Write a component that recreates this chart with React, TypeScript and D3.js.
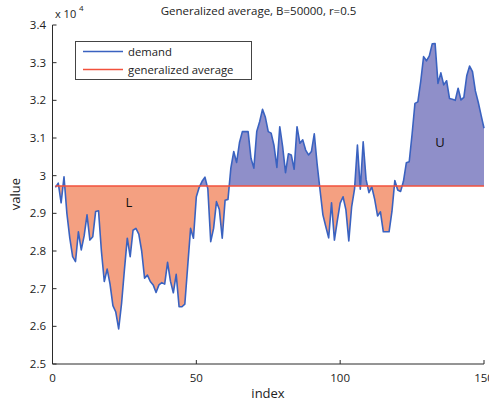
import React from "react";
import * as d3 from "d3";

// Demand series, index 1..150 (units of 10^4)
const demand: number[] = [
  2.969, 2.98, 2.928, 2.997, 2.9, 2.835, 2.785, 2.772, 2.851, 2.803,
  2.84, 2.896, 2.829, 2.838, 2.905, 2.907, 2.8, 2.719, 2.752, 2.712,
  2.655, 2.638, 2.593, 2.66, 2.75, 2.834, 2.785, 2.855, 2.86, 2.845,
  2.8, 2.728, 2.736, 2.719, 2.71, 2.69, 2.71, 2.716, 2.712, 2.77,
  2.72, 2.689, 2.738, 2.652, 2.652, 2.659, 2.76, 2.86, 2.834, 2.944,
  2.969, 2.985, 2.996, 2.965, 2.825, 2.86, 2.931, 2.91, 2.834, 2.935,
  2.937, 3.02, 3.064, 3.035, 3.088, 3.117, 3.117, 3.117, 3.046, 3.02,
  3.117, 3.143, 3.176, 3.155, 3.117, 3.113, 3.08, 3.022, 3.13, 3.077,
  3.008, 3.058, 3.055, 3.017, 3.13, 3.086, 3.095, 3.068, 3.055, 3.064,
  3.111, 3.03, 2.962, 2.896, 2.865, 2.835, 2.928, 2.829, 2.88, 2.927,
  2.944, 2.909, 2.827, 2.918, 2.965, 3.081, 2.964, 3.09, 2.99, 2.955,
  2.97, 2.937, 2.893, 2.904, 2.851, 2.851, 2.851, 2.905, 2.987, 2.962,
  2.958, 2.985, 3.034, 3.037, 3.11, 3.192, 3.196, 3.25, 3.316, 3.305,
  3.318, 3.35, 3.351, 3.245, 3.273, 3.241, 3.252, 3.205, 3.203, 3.2,
  3.232, 3.201, 3.208, 3.265, 3.291, 3.276, 3.225, 3.195, 3.16, 3.126,
].map((v) => v * 10000);

const generalizedAverage = 29725;

const xTicks = [0, 50, 100, 150];
const yTicks = [25000, 26000, 27000, 28000, 29000, 30000, 31000, 32000, 33000, 34000];

const W = 489;
const H = 403;
const FONT = "'Open Sans', 'DejaVu Sans', sans-serif";

export default function App() {
  const x = d3.scaleLinear().domain([0, 150]).range([52.5, 484]);
  const y = d3.scaleLinear().domain([25000, 34000]).range([364, 25]);

  const pts = demand.map((v, i) => ({ i: i + 1, v }));
  const avgY = y(generalizedAverage);

  const area = d3
    .area<{ i: number; v: number }>()
    .x((d) => x(d.i))
    .y0(avgY)
    .y1((d) => y(d.v));
  const line = d3
    .line<{ i: number; v: number }>()
    .x((d) => x(d.i))
    .y((d) => y(d.v));

  const areaPath = area(pts) || "";
  const linePath = line(pts) || "";

  const axisColor = "#2b2b2b";
  const lineBlue = "#3a62c0";
  const avgRed = "#f2513c";

  return (
    <div style={{ position: "fixed", left: 0, top: 0 }}>
      <svg width={W} height={H} style={{ display: "block", background: "#fff" }}>
        <defs>
          <clipPath id="above">
            <rect x={0} y={0} width={W} height={avgY} />
          </clipPath>
          <clipPath id="below">
            <rect x={0} y={avgY} width={W} height={H - avgY} />
          </clipPath>
        </defs>

        {/* title */}
        <text x={258.5} y={15} textAnchor="middle" fontFamily={FONT} fontSize={11.5} fill="#222">
          Generalized average, B=50000, r=0.5
        </text>

        {/* filled regions */}
        <path d={areaPath} fill="#8f8fc9" clipPath="url(#above)" />
        <path d={areaPath} fill="#f4a081" clipPath="url(#below)" />

        {/* demand curve */}
        <path d={linePath} fill="none" stroke={lineBlue} strokeWidth={1.6} strokeLinejoin="round" />

        {/* generalized average */}
        <line x1={x(1)} x2={x(150)} y1={avgY} y2={avgY} stroke={avgRed} strokeWidth={1.6} />

        {/* region labels */}
        <text x={129} y={207} textAnchor="middle" fontFamily={FONT} fontSize={13} fill="#111">L</text>
        <text x={440} y={147} textAnchor="middle" fontFamily={FONT} fontSize={13} fill="#111">U</text>

        {/* axes */}
        <line x1={x(0)} x2={x(0)} y1={y(34000)} y2={y(25000)} stroke={axisColor} strokeWidth={1} />
        <line x1={x(0)} x2={x(150)} y1={y(25000)} y2={y(25000)} stroke={axisColor} strokeWidth={1} />
        {yTicks.map((t) => (
          <g key={"y" + t}>
            <line x1={x(0)} x2={x(0) + 4} y1={y(t)} y2={y(t)} stroke={axisColor} strokeWidth={1} />
            <text x={46} y={y(t) + 4} textAnchor="end" fontFamily={FONT} fontSize={11.5} fill="#222">
              {d3.format("~g")(t / 10000)}
            </text>
          </g>
        ))}
        {xTicks.map((t) => (
          <g key={"x" + t}>
            <line x1={x(t)} x2={x(t)} y1={y(25000)} y2={y(25000) - 4} stroke={axisColor} strokeWidth={1} />
            <text x={x(t)} y={382} textAnchor="middle" fontFamily={FONT} fontSize={11.5} fill="#222">
              {t}
            </text>
          </g>
        ))}

        {/* exponent */}
        <text x={55} y={18} fontFamily={FONT} fontSize={11} fill="#222">x 10</text>
        <text x={79} y={11} fontFamily={FONT} fontSize={8} fill="#222">4</text>

        {/* axis labels */}
        <text x={268} y={398} textAnchor="middle" fontFamily={FONT} fontSize={13} fill="#222">index</text>
        <text
          transform={`translate(20,${194}) rotate(-90)`}
          textAnchor="middle"
          fontFamily={FONT}
          fontSize={13}
          fill="#222"
        >
          value
        </text>

        {/* legend */}
        <rect x={75.5} y={41.5} width={176} height={38} fill="#fff" stroke="#444" strokeWidth={1} />
        <line x1={83} x2={123} y1={51.5} y2={51.5} stroke={lineBlue} strokeWidth={1.6} />
        <text x={128} y={56} fontFamily={FONT} fontSize={11.3} fill="#222">demand</text>
        <line x1={83} x2={123} y1={69.5} y2={69.5} stroke={avgRed} strokeWidth={1.6} />
        <text x={128} y={74} fontFamily={FONT} fontSize={11.3} fill="#222">generalized average</text>
      </svg>
    </div>
  );
}
